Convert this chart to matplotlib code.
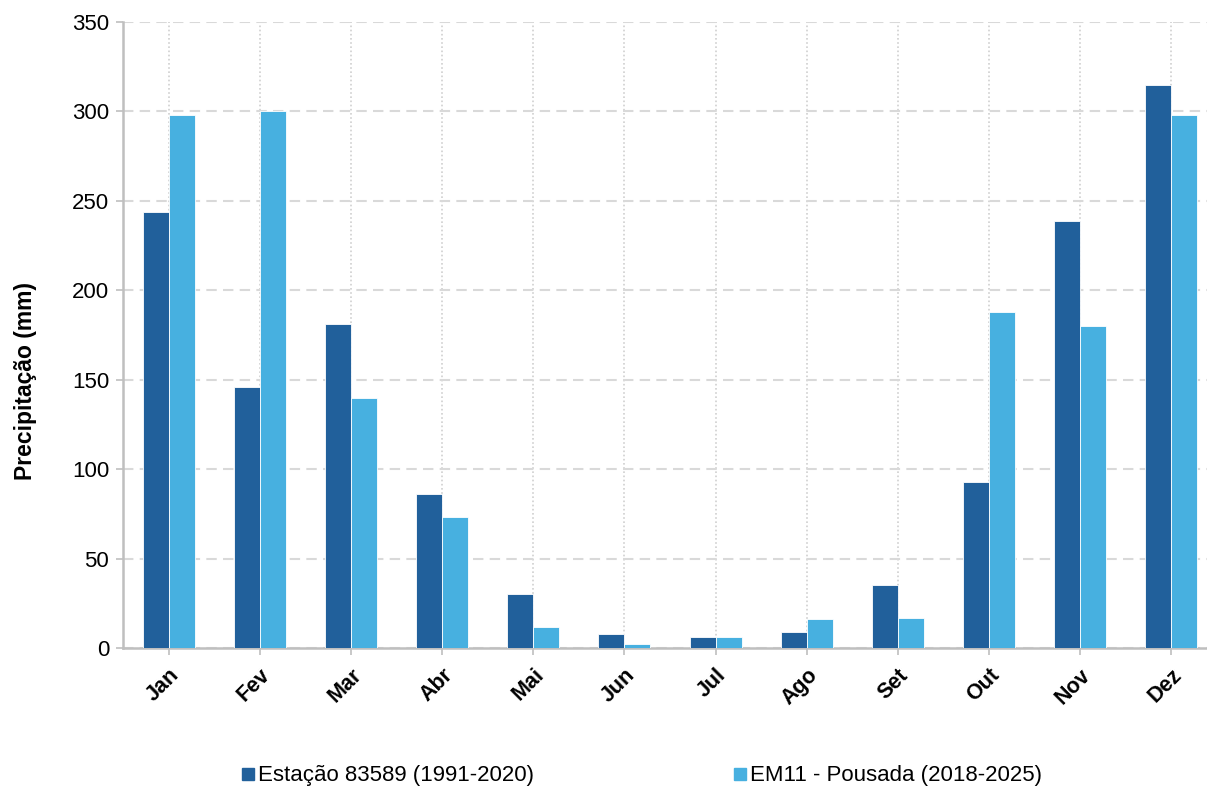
import matplotlib
matplotlib.use("Agg")
import matplotlib.pyplot as plt
from matplotlib.lines import Line2D
import numpy as np

months = ["Jan", "Fev", "Mar", "Abr", "Mai", "Jun", "Jul", "Ago", "Set", "Out", "Nov", "Dez"]
estacao = [244, 146, 181, 86, 30, 8, 6, 9, 35, 93, 239, 315]
em11 = [298, 300, 140, 73, 12, 2, 6, 16, 17, 188, 180, 298]
labels = ["Estação 83589 (1991-2020)", "EM11 - Pousada (2018-2025)"]
yticks = [0, 50, 100, 150, 200, 250, 300, 350]

c_dark = "#21609B"
c_light = "#47B0E0"

plt.rcParams["font.family"] = ["Liberation Sans", "DejaVu Sans"]

fig = plt.figure(figsize=(12.07, 7.88), dpi=100)
ax = fig.add_axes([123/1207, 1-648/788, 1-123/1207, (648-22)/788])

x = np.arange(len(months))
w = 0.285
ax.bar(x - w/2, estacao, width=w, color=c_dark, edgecolor="white", linewidth=0.6, zorder=3)
ax.bar(x + w/2, em11, width=w, color=c_light, edgecolor="white", linewidth=0.6, zorder=3)

ax.set_xlim(-0.5, 11.39)
ax.set_ylim(0, 350)
ax.set_yticks(yticks)
ax.set_xticks(x)
ax.set_xticklabels(months, rotation=45, ha="right", rotation_mode="anchor",
                   fontsize=15.5, fontweight="bold")
ax.tick_params(axis="x", length=5, color="#bfbfbf", width=1.2, pad=7)
ax.tick_params(axis="y", length=5, color="#bfbfbf", width=1.2, labelsize=16, pad=5)

ax.yaxis.grid(True, linestyle=(0, (5, 3)), color="#d9d9d9", linewidth=1.5, zorder=0)
ax.xaxis.grid(True, linestyle=(0, (1, 1.5)), color="#d0d0d0", linewidth=1.2, zorder=0)

for s in ["top", "right"]:
    ax.spines[s].set_visible(False)
for s in ["left", "bottom"]:
    ax.spines[s].set_color("#bfbfbf")
    ax.spines[s].set_linewidth(1.8)

ax.set_ylabel("Precipitação (mm)", fontsize=16.5, fontweight="bold")
ax.yaxis.set_label_coords(-0.079, 0.4265)

handles = [Line2D([], [], marker="s", linestyle="none", color=c, markersize=8) for c in (c_dark, c_light)]
fig.legend(handles, labels, loc="center", bbox_to_anchor=(0.531, 1-776/788), ncol=2,
           frameon=False, fontsize=16, handletextpad=0.1, columnspacing=8.9, handlelength=0.7)

fig.savefig("out.png", dpi=100)
